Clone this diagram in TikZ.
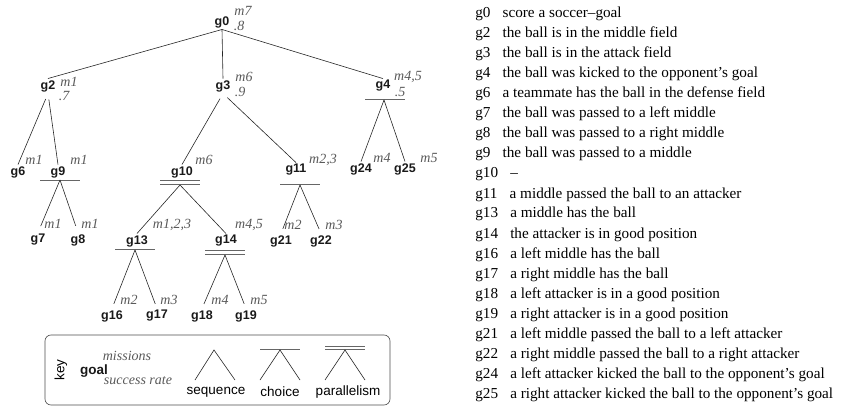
\documentclass[tikz,border=0pt]{standalone}
\usepackage{fontspec}
\setmainfont{Liberation Serif}
\setsansfont{Liberation Sans}
\tikzset{
  goal/.style={font=\sffamily\bfseries\fontsize{12.5}{14}\selectfont,inner sep=1.5pt,text=black!90},
  mis/.style={font=\itshape\fontsize{14}{16}\selectfont,text=black!65,inner sep=0pt},
  link/.style={draw=black!85},
  bar/.style={draw=black!60,line width=0.8pt},
  keytext/.style={font=\sffamily\fontsize{13.5}{16}\selectfont},
  desc/.style={anchor=base west,inner sep=0pt,font=\fontsize{15.2}{18}\selectfont}
}

\begin{document}
\begin{tikzpicture}
  [x=1pt,y=-1pt,line width=0.6pt]
  \useasboundingbox (0,0) rectangle (856,406);

  % goals
  \node [goal] (g0) at (222,22) {g0};
  \node [goal] (g2) at (48,86) {g2};
  \node [goal] (g3) at (223,86) {g3};
  \node [goal] (g4) at (383,86) {g4};
  \node [goal] (g6) at (18,172) {g6};
  \node [goal] (g9) at (58,172) {g9};
  \node [goal] (g10) at (182,172) {g10};
  \node [goal] (g11) at (296,170) {g11};
  \node [goal] (g24) at (361,169) {g24};
  \node [goal] (g25) at (405,169) {g25};
  \node [goal] (g7) at (38,240) {g7};
  \node [goal] (g8) at (78,240) {g8};
  \node [goal] (g13) at (137,241) {g13};
  \node [goal] (g14) at (226,241) {g14};
  \node [goal] (g21) at (281,241) {g21};
  \node [goal] (g22) at (321,241) {g22};
  \node [goal] (g16) at (112,316) {g16};
  \node [goal] (g17) at (157,316) {g17};
  \node [goal] (g18) at (202,316) {g18};
  \node [goal] (g19) at (246,316) {g19};

  % missions and success rates
  \node [mis] (m0) at (243,11) {m7};
  \node [mis] (r0) at (239,26) {.8};
  \node [mis] (m2) at (69,82) {m1};
  \node [mis] (r2) at (64,96) {.7};
  \node [mis] (m3) at (244,77) {m6};
  \node [mis] (r3) at (240,92) {.9};
  \node [mis] (m4) at (408,77) {m4,5};
  \node [mis] (r4) at (400,92) {.5};
  \node [mis] (m6) at (34,160) {m1};
  \node [mis] (m9) at (79,160) {m1};
  \node [mis] (m10) at (204,160) {m6};
  \node [mis] (m11) at (323,160) {m2,3};
  \node [mis] (m24) at (382,158) {m4};
  \node [mis] (m25) at (429,158) {m5};
  \node [mis] (m7) at (53,224) {m1};
  \node [mis] (m8) at (90,224) {m1};
  \node [mis] (m13) at (172,225) {m1,2,3};
  \node [mis] (m14) at (249,225) {m4,5};
  \node [mis] (m21) at (293,225) {m2};
  \node [mis] (m22) at (334,225) {m3};
  \node [mis] (m16) at (129,300) {m2};
  \node [mis] (m17) at (169,300) {m3};
  \node [mis] (m18) at (220,300) {m4};
  \node [mis] (m19) at (259,300) {m5};

  % choice and parallelism bars
  \coordinate (f4) at (384,100);
  \coordinate (f9) at (60,180);
  \coordinate (f10) at (180,185);
  \coordinate (f11) at (300,185);
  \coordinate (f13) at (135,250);
  \coordinate (f14) at (225,255);
  \draw [bar] (365,99) -- (405,99);
  \draw [bar] (40,180) -- (80,180);
  \draw [bar] (160,180) -- (200,180);
  \draw [bar] (160,184) -- (200,184);
  \draw [bar] (280,184) -- (320,184);
  \draw [bar] (115,249) -- (155,249);
  \draw [bar] (205,250) -- (245,250);
  \draw [bar] (205,254) -- (245,254);

  \foreach \from/\to in {g0/g2,g0/g3,g0/g4}
    \draw [link] (\from.south) -- (\to.north);
  \foreach \from/\to in {g2/g6,g2/g9,g3/g10,g3/g11}
    \draw [link,shorten <=6pt] (\from.south) -- (\to.north);
  \foreach \from/\to in {f4/g24,f4/g25,f10/g13,f10/g14}
    \draw [link] (\from) -- (\to.north);
  \foreach \from/\to in {f9/g7,f9/g8}
    \draw [link,shorten >=7pt] (\from) -- (\to.north);
  \foreach \from/\to in {f11/g21,f11/g22}
    \draw [link,shorten >=5pt] (\from) -- (\to.north);
  \foreach \from/\to in {f13/g16,f13/g17,f14/g18,f14/g19}
    \draw [link,shorten >=5pt] (\from) -- (\to.north);

  % key
  \draw [draw=black!70,rounded corners=6pt] (45,335) rectangle (390,405);
  \node [keytext,rotate=90] (kkey) at (61,370) {key};
  \node [mis] (kmis) at (127,356) {missions};
  \node [goal,font=\sffamily\bfseries\fontsize{13.5}{16}\selectfont] (kgoal) at (94,371) {goal};
  \node [mis] (krate) at (138,381) {success rate};
  \draw [link] (195,380) -- (214,350) -- (235,380);
  \draw [bar] (260,349) -- (300,349);
  \draw [link] (260,380) -- (280,350) -- (300,380);
  \draw [bar] (325,346) -- (365,346);
  \draw [bar] (325,349) -- (365,349);
  \draw [link] (325,380) -- (345,350) -- (365,380);
  \node [keytext] (kseq) at (216,392) {sequence};
  \node [keytext] (kcho) at (280,392) {choice};
  \node [keytext] (kpar) at (348,392) {parallelism};

  % descriptions
  \foreach \lab/\txt [count=\i from 0] in {
      g0/score a soccer--goal,
      g2/the ball is in the middle field,
      g3/the ball is in the attack field,
      g4/the ball was kicked to the opponent's goal,
      g6/a teammate has the ball in the defense field,
      g7/the ball was passed to a left middle,
      g8/the ball was passed to a right middle,
      g9/the ball was passed to a middle,
      g10/--,
      g11/a middle passed the ball to an attacker,
      g13/a middle has the ball,
      g14/the attacker is in good position,
      g16/a left middle has the ball,
      g17/a right middle has the ball,
      g18/a left attacker is in a good position,
      g19/a right attacker is in a good position,
      g21/a left middle passed the ball to a left attacker,
      g22/a right middle passed the ball to a right attacker,
      g24/a left attacker kicked the ball to the opponent's goal,
      g25/a right attacker kicked the ball to the opponent's goal}
    \node [desc] (d\lab) at (475,{18+20*\i}) {\lab\hspace{0.8em}\txt};
\end{tikzpicture}
\end{document}
